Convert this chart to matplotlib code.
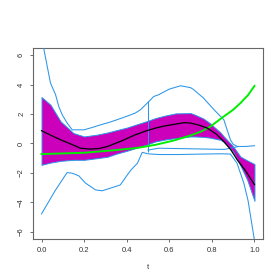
import numpy as np
import matplotlib
matplotlib.use('Agg')
from matplotlib import pyplot as plt

# magenta band (inner)
band_t = [0.0, 0.042, 0.09, 0.15, 0.2, 0.26, 0.31, 0.35, 0.40, 0.44, 0.49, 0.535,
          0.58, 0.63, 0.70, 0.72, 0.76, 0.79, 0.84, 0.856, 0.90, 0.934, 0.966, 1.0]
band_hi = [3.16, 2.64, 1.5, 0.71, 0.48, 0.6, 0.75, 0.9, 1.08, 1.27, 1.5, 1.73,
           1.9, 2.05, 2.07, 1.96, 1.7, 1.39, 0.75, 0.48, -0.2, -0.89, -1.15, -1.4]
band_lo = [-1.45, -1.3, -1.18, -1.11, -1.11, -1.0, -0.9, -0.7, -0.5, -0.32, -0.1, 0.14,
           0.27, 0.37, 0.48, 0.48, 0.45, 0.4, 0.25, 0.1, -0.55, -1.5, -2.48, -3.9]

# mean curve
mean_t = [0.0, 0.05, 0.09, 0.14, 0.183, 0.23, 0.27, 0.31, 0.37, 0.44, 0.49,
          0.535, 0.58, 0.63, 0.67, 0.70, 0.74, 0.778, 0.82, 0.856, 0.89, 0.919,
          0.96, 1.0]
mean_y = [0.87, 0.52, 0.25, -0.05, -0.32, -0.38, -0.34, -0.2, 0.14, 0.59, 0.85,
          1.05, 1.2, 1.32, 1.42, 1.39, 1.25, 1.05, 0.65, 0.14, -0.45, -1.11,
          -1.9, -2.8]

# green curve
green_t = [0.0, 0.2, 0.347, 0.45, 0.535, 0.62, 0.70, 0.75, 0.793, 0.856, 0.9,
           0.934, 0.97, 1.0]
green_y = [-0.72, -0.63, -0.45, -0.3, -0.09, 0.2, 0.55, 0.82, 1.16, 1.84, 2.3,
           2.75, 3.3, 3.92]

# outer upper curve
up_t = [0.0, 0.01, 0.042, 0.066, 0.081, 0.097, 0.12, 0.144, 0.2, 0.24, 0.277,
        0.32, 0.355, 0.40, 0.44, 0.465, 0.504, 0.527, 0.55, 0.6, 0.653, 0.7,
        0.715, 0.76, 0.81, 0.84, 0.856, 0.87, 0.887, 0.9, 0.919, 0.96, 1.0]
up_y = [7.1, 6.5, 4.12, 3.32, 2.52, 1.96, 1.4, 0.93, 0.93, 1.1, 1.27,
        1.45, 1.62, 1.85, 2.07, 2.3, 2.86, 3.2, 3.32, 3.7, 3.93, 3.8,
        3.66, 3.1, 2.3, 1.85, 1.62, 1.0, 0.25, -0.05, -0.2, -0.2, -0.15]

# outer lower curve
lo_t = [0.0, 0.066, 0.12, 0.144, 0.175, 0.207, 0.254, 0.285, 0.347, 0.37,
        0.40, 0.42, 0.45, 0.473, 0.5, 0.55, 0.65, 0.75, 0.85, 0.887, 0.918,
        0.95, 0.97, 1.0]
lo_y = [-4.79, -3.16, -1.98, -2.02, -2.2, -2.7, -3.16, -3.22, -2.93, -2.82,
        -2.2, -1.8, -1.35, -0.6, -0.7, -0.75, -0.75, -0.72, -0.7, -0.72, -1.34,
        -2.7, -3.9, -6.6]

# extra flat piece on the right
flat_t = [0.5, 0.55, 0.7, 0.86, 0.92]
flat_y = [-0.45, -0.32, -0.36, -0.4, -0.22]

# vertical segment
vseg_t = 0.5
vseg_lo = -0.55
vseg_hi = 2.86

blue = '#2B95E8'
magenta = '#CC00BB'

plt.rcParams['font.family'] = ['Liberation Sans', 'DejaVu Sans']

fig = plt.figure(figsize=(2.8, 2.8), dpi=100)
ax = fig.add_axes([33 / 280, 1 - 239 / 280, 230 / 280, 191 / 280])

ax.fill_between(band_t, band_lo, band_hi, facecolor=magenta,
                edgecolor=blue, linewidth=0.7, zorder=2)
ax.plot(up_t, up_y, color=blue, lw=0.75, zorder=3)
ax.plot(lo_t, lo_y, color=blue, lw=0.75, zorder=3)
ax.plot(flat_t, flat_y, color=blue, lw=0.75, zorder=3)
ax.vlines(vseg_t, vseg_lo, vseg_hi, color=blue, lw=0.75, zorder=3)
ax.plot(green_t, green_y, color='#00EE00', lw=1.4, zorder=4)
ax.plot(mean_t, mean_y, color='black', lw=0.9, zorder=5)

ax.set_xlim(-0.04, 1.04)
ax.set_ylim(-6.5, 6.5)
ax.set_xticks([0.0, 0.2, 0.4, 0.6, 0.8, 1.0])
ax.set_xticklabels(['0.0', '0.2', '0.4', '0.6', '0.8', '1.0'])
ax.set_yticks([-6, -4, -2, 0, 2, 4, 6])
ax.tick_params(labelsize=5.5, length=2.5, width=0.6, color='#555555',
               labelcolor='#333333')
ax.tick_params(axis='x', pad=3.5)
ax.tick_params(axis='y', pad=3.2)
plt.setp(ax.get_yticklabels(), rotation=90, va='center')
for s in ax.spines.values():
    s.set_color('#666666')
    s.set_linewidth(0.8)
ax.set_xlabel('t', fontsize=5.5, color='#333333', labelpad=7)

plt.savefig('out.png', dpi=100)
